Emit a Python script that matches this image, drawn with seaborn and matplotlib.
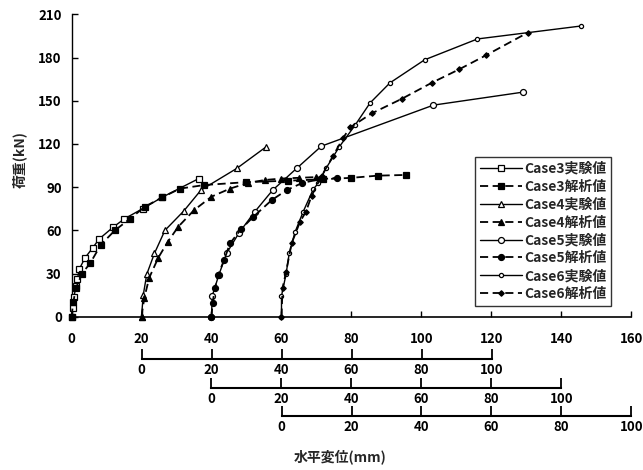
import pandas as pd
import numpy as np
import matplotlib
matplotlib.use('Agg')
import matplotlib.pyplot as plt
import seaborn as sns

sns.set_theme(style='ticks')
plt.rcParams['font.family'] = ['Noto Sans CJK JP', 'DejaVu Sans']
plt.rcParams['axes.edgecolor'] = 'black'
plt.rcParams['xtick.color'] = 'black'
plt.rcParams['ytick.color'] = 'black'

# %% Data (local displacement of each case, mm / load, kN)
case3_exp_x = [0, 0.3, 0.7, 1.3, 1.7, 2.2, 3.9, 6.1, 7.9, 11.8, 15.1, 20.3, 25.9, 36.4]
case3_exp_y = [0, 6, 14, 21, 26, 33, 41, 48, 54, 62, 68, 75, 83, 96]
case3_ana_x = [0, 0.5, 1.3, 3, 5.3, 8.4, 12.4, 16.7, 21, 26, 31, 38, 50, 62, 72, 80, 87.5, 95.5]
case3_ana_y = [0, 10, 20, 30, 37, 50, 60, 68, 76.5, 83, 89, 91.5, 93.5, 94.5, 95.5, 96.5, 98, 98.5]

case4_exp_x = [0, 0.5, 1.5, 3.7, 6.7, 12.1, 17, 27.2, 35.6]
case4_exp_y = [0, 15, 29.5, 44, 60, 73.5, 88, 103, 118]
case4_ana_x = [0, 0.8, 2.2, 4.8, 7.5, 10.5, 15, 20, 25.3, 30.5, 35.3, 40, 45, 50]
case4_ana_y = [0, 13, 27, 41, 52, 62.5, 74, 83.4, 89, 93, 95, 96, 96.5, 97]

case5_exp_x = [0, 0.2, 2.1, 4.3, 7.9, 12.4, 17.5, 24.3, 31.4, 63.4, 88.9]
case5_exp_y = [0, 14.4, 29, 44, 58.4, 73, 88, 103, 118.5, 147, 156]
case5_ana_x = [0, 0.3, 1, 1.9, 3.6, 5.3, 8.5, 12, 17.2, 21.5, 26, 31, 36]
case5_ana_y = [0, 9.3, 20, 29, 39.4, 51, 61, 69.5, 81, 88, 93, 95.5, 96.5]

case6_exp_x = [0, 0, 1.3, 2.2, 3.9, 6.2, 9.1, 10.5, 12.7, 16.5, 21, 25.3, 31, 40.9, 56, 85.6]
case6_exp_y = [0, 14.4, 29.6, 44, 59, 73, 88.7, 92.7, 103, 118, 133, 148.5, 162.5, 178.5, 193, 202]
case6_ana_x = [0, 0.3, 1.3, 2.9, 5.3, 7, 8.6, 11.5, 14.8, 17.7, 19.6, 25.8, 34.3, 42.9, 50.7, 58.4, 70.3]
case6_ana_y = [0, 20, 31, 51, 66, 73, 84, 98, 112, 124.5, 131.5, 141.3, 151.3, 162.5, 171.8, 181.6, 197.3]

case_offsets = [0, 20, 40, 60]   # origin shift of each case on the main axis
x_ticks = [0, 20, 40, 60, 80, 100, 120, 140, 160]
sub_ticks = [0, 20, 40, 60, 80, 100]
y_ticks = [0, 30, 60, 90, 120, 150, 180, 210]

series = [
    ('Case3実験値', case3_exp_x, case3_exp_y, 0),
    ('Case3解析値', case3_ana_x, case3_ana_y, 0),
    ('Case4実験値', case4_exp_x, case4_exp_y, 1),
    ('Case4解析値', case4_ana_x, case4_ana_y, 1),
    ('Case5実験値', case5_exp_x, case5_exp_y, 2),
    ('Case5解析値', case5_ana_x, case5_ana_y, 2),
    ('Case6実験値', case6_exp_x, case6_exp_y, 3),
    ('Case6解析値', case6_ana_x, case6_ana_y, 3),
]

# marker / line style per series
styles = {
    'Case3実験値': dict(marker='s', ms=4.6, mfc='white', dashed=False),
    'Case3解析値': dict(marker='s', ms=3.8, mfc='black', dashed=True),
    'Case4実験値': dict(marker='^', ms=4.0, mfc='white', dashed=False),
    'Case4解析値': dict(marker='^', ms=4.0, mfc='black', dashed=True),
    'Case5実験値': dict(marker='o', ms=4.3, mfc='white', dashed=False),
    'Case5解析値': dict(marker='o', ms=4.3, mfc='black', dashed=True),
    'Case6実験値': dict(marker='o', ms=3.0, mfc='white', dashed=False),
    'Case6解析値': dict(marker='D', ms=2.8, mfc='black', dashed=True),
}

# %% Plot
fig = plt.figure(figsize=(6.43, 4.70), dpi=100)
ax = fig.add_axes([0.1112, 0.3262, 0.8709, 0.643])

for name, xs, ys, k in series:
    d = pd.DataFrame({'x': np.array(xs) + case_offsets[k], 'y': ys})
    st = styles[name]
    sns.lineplot(data=d, x='x', y='y', ax=ax, sort=False, estimator=None,
                 color='black', lw=1.3 if st['dashed'] else 1.0,
                 linestyle=(0, (4.5, 2.5)) if st['dashed'] else '-',
                 marker=st['marker'], markersize=st['ms'],
                 markerfacecolor=st['mfc'], markeredgecolor='black',
                 markeredgewidth=0.9, label=name, clip_on=False, zorder=3)

ax.set_xlim(0, 160)
ax.set_ylim(0, 210)
ax.set_xticks(x_ticks)
ax.set_yticks(y_ticks)
ax.tick_params(axis='x', direction='in', length=4, width=1, pad=11, labelsize=9.5)
ax.tick_params(axis='y', direction='in', length=4, width=1, pad=7, labelsize=9.5)
for lab in ax.get_xticklabels() + ax.get_yticklabels():
    lab.set_fontweight('bold')
ax.set_xlabel('')
ax.set_ylabel('荷重(kN)', fontsize=10, fontweight='bold')
ax.yaxis.set_label_coords(-0.08, 0.52)
sns.despine(ax=ax)
ax.spines['left'].set_linewidth(1.0)
ax.spines['bottom'].set_linewidth(1.2)

leg = ax.legend(loc='upper left', bbox_to_anchor=(0.7205, 0.5285), borderaxespad=0,
                frameon=True, fancybox=False, edgecolor='black',
                handlelength=3.0, handletextpad=0.2, labelspacing=0.28,
                borderpad=0.35, prop={'weight': 'bold', 'size': 10})
leg.get_frame().set_linewidth(1.0)

# secondary displacement axes for Case4, Case5, Case6
sub_pos = [(0.2201, 0.2355), (0.3289, 0.1751), (0.4378, 0.1149)]
for left, bottom in sub_pos:
    sub = fig.add_axes([left, bottom, 0.5443, 0.001])
    sub.set_facecolor('none')
    sub.set_xlim(0, 100)
    sub.set_xticks(sub_ticks)
    sub.set_yticks([])
    for s in ['top', 'left', 'right']:
        sub.spines[s].set_visible(False)
    sub.spines['bottom'].set_linewidth(1.5)
    sub.tick_params(axis='x', direction='in', length=7, width=1.3, pad=3, labelsize=9.5)
    for lab in sub.get_xticklabels():
        lab.set_fontweight('bold')

fig.text(0.529, 0.028, '水平変位(mm)', ha='center', va='center', fontsize=10, fontweight='bold')

plt.savefig('out.png', dpi=100)
